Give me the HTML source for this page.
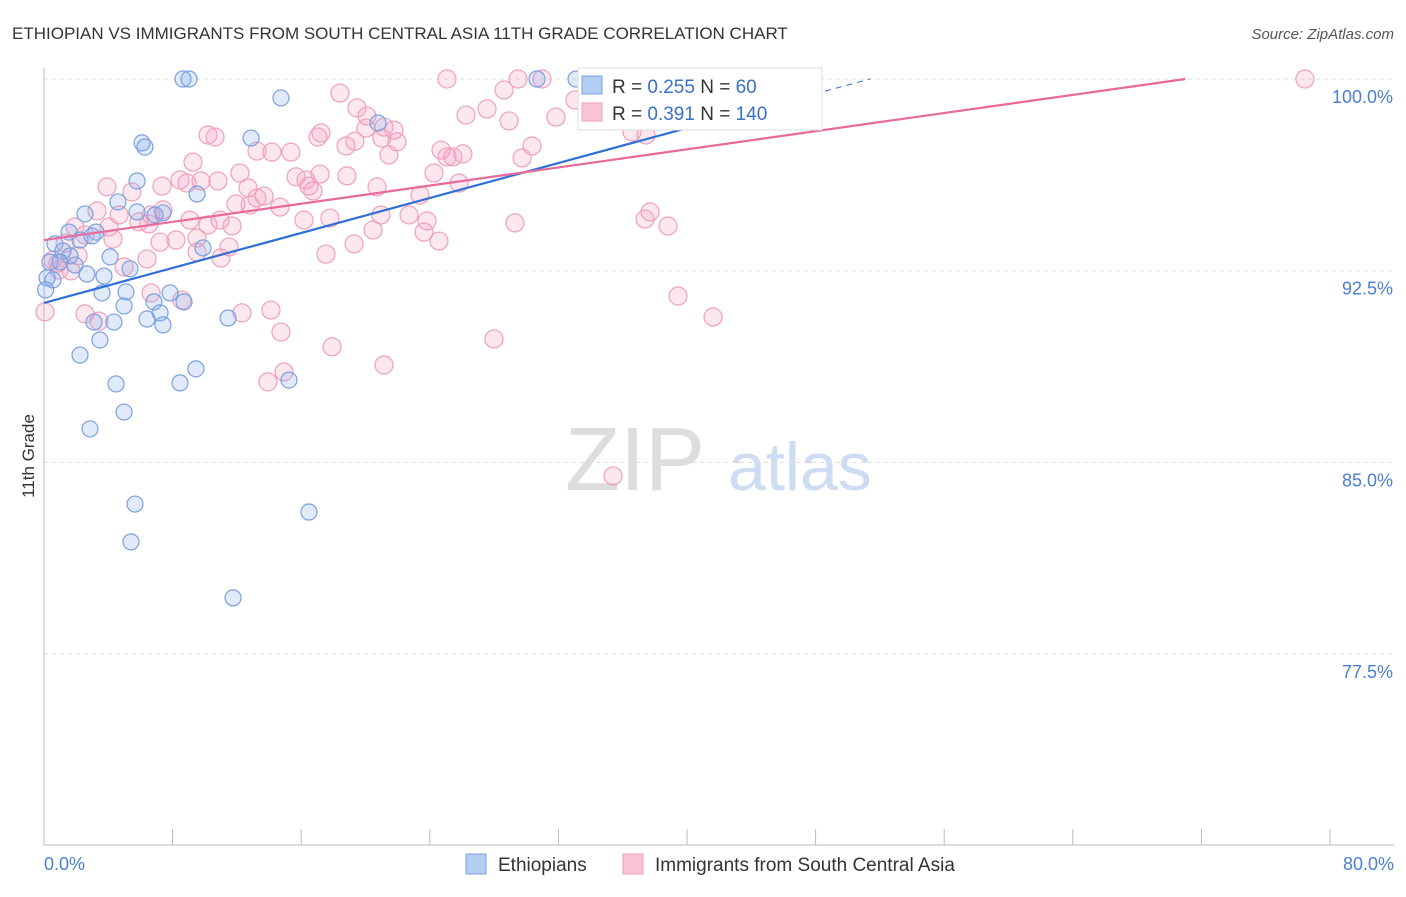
<!DOCTYPE html>
<html><head><meta charset="utf-8"><style>
body{margin:0;background:#fff;font-family:"Liberation Sans",sans-serif}
svg text{font-family:"Liberation Sans",sans-serif}
</style></head><body>
<svg width="1406" height="892" xmlns="http://www.w3.org/2000/svg" id="chart">
<text x="12" y="39" font-size="17" fill="#333">ETHIOPIAN VS IMMIGRANTS FROM SOUTH CENTRAL ASIA 11TH GRADE CORRELATION CHART</text>
<text x="1394" y="39" font-size="15" fill="#555" font-style="italic" text-anchor="end">Source: ZipAtlas.com</text>
<text x="34" y="456" font-size="17" fill="#333" transform="rotate(-90 34 456)" text-anchor="middle">11th Grade</text>
<g><text x="635" y="490" font-size="90" fill="#ddd" font-family="Liberation Serif" text-anchor="middle">ZIP</text><text x="800" y="490" font-size="68" fill="#cddcf2" text-anchor="middle">atlas</text></g>
<g id="grid"></g><g id="axes"></g><g id="pts"></g><g id="lines"></g>
<g>
<rect x="578" y="68" width="244" height="62" fill="#fff" stroke="#ddd"/>
<rect x="582" y="76" width="20" height="18" fill="#b3cdf3" stroke="#7aa0e0"/>
<text x="612" y="93" font-size="19" fill="#333">R = <tspan fill="#3a70c8">0.255</tspan>   N =  <tspan fill="#3a70c8">60</tspan></text>
<rect x="582" y="103" width="20" height="18" fill="#f9c5d6" stroke="#f0a0bb"/>
<text x="612" y="120" font-size="19" fill="#333">R =  <tspan fill="#3a70c8">0.391</tspan>   N = <tspan fill="#3a70c8">140</tspan></text>
</g>
<g>
<rect x="466" y="854" width="20" height="20" fill="#b3cdf3" stroke="#7aa0e0"/>
<text x="498" y="871" font-size="19" fill="#333">Ethiopians</text>
<rect x="623" y="854" width="20" height="20" fill="#f9c5d6" stroke="#f0a0bb"/>
<text x="655" y="871" font-size="19" fill="#333">Immigrants from South Central Asia</text>
</g>
<text x="44" y="870" font-size="18" fill="#4a7fd4">0.0%</text>
<text x="1394" y="870" font-size="18" fill="#4a7fd4" text-anchor="end">80.0%</text>
</svg>
<script>
const yTicks=[100,92.5,85,77.5];
const yTickLabels=["100.0%","92.5%","85.0%","77.5%"];
const xTicks=[0,8,16,24,32,40,48,56,64,72,80];
const blueX=[8.65,9.02,14.74,6.10,6.28,12.88,20.78,30.67,33.10,5.79,9.52,4.60,2.55,5.79,7.40,6.91,1.56,3.23,2.99,0.68,2.24,1.18,1.62,4.11,0.37,1.00,1.93,2.67,5.35,3.73,0.56,0.19,3.61,5.10,7.84,6.84,8.71,4.98,7.22,6.41,7.40,4.35,3.11,11.45,3.48,2.24,9.45,8.46,4.48,15.24,4.98,2.86,9.89,5.66,16.48,5.41,11.76,0.1];
const blueY=[100,100,99.26,97.50,97.34,97.69,98.28,100,100,96.01,95.50,95.19,94.72,94.80,94.76,94.68,94.01,94.01,93.86,93.55,93.70,93.27,93.08,93.04,92.84,92.84,92.72,92.37,92.57,92.29,92.14,92.22,91.63,91.67,91.63,91.28,91.28,91.12,90.85,90.61,90.38,90.49,90.49,90.65,89.79,89.20,88.66,88.11,88.07,88.22,86.97,86.31,93.39,83.37,83.06,81.89,79.70,91.75];
const pinkX=[25.07,29.49,30.98,78.44,18.41,28.62,33.03,35.27,27.56,26.25,28.93,19.47,20.09,31.85,21.15,21.77,10.20,10.64,17.23,17.04,18.79,19.34,21.02,21.96,13.25,14.18,15.36,20.03,21.46,24.70,25.07,25.44,26.06,29.74,30.36,9.27,12.19,15.68,16.30,17.17,18.85,24.26,25.82,8.46,8.90,10.82,9.77,3.92,5.47,7.34,12.69,13.25,13.69,16.48,16.73,20.72,23.39,12.82,14.68,11.94,7.40,6.66,3.30,4.67,9.08,10.95,5.91,6.53,4.04,1.93,2.55,10.20,11.70,16.17,17.79,20.96,22.71,23.83,29.30,37.70,37.39,38.82,4.29,7.22,8.21,9.52,11.51,19.29,20.47,23.64,24.57,1.31,0.56,0.87,2.12,6.41,9.52,11.01,17.54,4.98,0.93,1.68,0.06,6.66,8.58,39.44,41.62,2.55,3.42,12.32,14.12,14.74,17.92,27.99,21.15,14.93,13.93,35.40,36.58,37.45];
const pinkY=[100,100,100,100,99.45,99.57,99.18,99.22,98.83,98.59,98.36,98.87,98.55,98.51,98.12,98.00,97.81,97.73,97.89,97.73,97.38,97.57,97.69,97.54,97.18,97.14,97.14,98.08,97.03,97.22,96.95,96.95,97.07,96.91,97.38,96.75,96.32,96.17,96.05,96.28,96.21,96.32,95.93,96.05,95.93,96.01,96.01,95.78,95.58,95.81,95.74,95.34,95.42,95.81,95.62,95.78,95.46,95.07,94.99,95.11,94.88,94.68,94.84,94.68,94.48,94.48,94.41,94.33,94.21,94.21,93.90,94.29,94.25,94.48,94.56,94.68,94.68,94.45,94.37,94.80,94.52,94.25,93.74,93.62,93.70,93.78,93.43,93.55,94.09,94.01,93.66,93.58,92.92,92.80,93.08,92.96,93.23,93.00,93.15,92.65,92.53,92.49,90.89,91.63,91.35,91.51,90.69,90.81,90.53,90.85,90.96,90.10,89.52,89.83,88.81,88.54,88.15,84.47,97.93,97.81];
const blueTrendX=[0,40,51.4];
const blueTrendY=[91.24,98.08,100];
const pinkTrendX=[0,71.0];
const pinkTrendY=[93.70,100];
const NS="http://www.w3.org/2000/svg";
function sx(v){return 44+v*(1286/80);}
function sy(v){return 79+(100-v)*(191.7/7.5);}
function mk(tag,attrs,parent){const e=document.createElementNS(NS,tag);for(const k in attrs)e.setAttribute(k,attrs[k]);document.getElementById(parent).appendChild(e);return e;}
yTicks.forEach((t,i)=>{
 const g=mk('line',{x1:44,x2:1394,y1:sy(t),y2:sy(t),stroke:'#ddd','stroke-dasharray':'4,4'},'grid');
 
 
 const l=mk('text',{x:1393,y:sy(t)+24,'font-size':18,fill:'#4a7fd4','text-anchor':'end'},'grid');
 l.textContent=yTickLabels[i];
 
 
});
const ya=mk('line',{x1:44,x2:44,y1:68,y2:845,stroke:'#bbb'},'axes');


const xa=mk('line',{x1:44,x2:1394,y1:845,y2:845,stroke:'#bbb'},'axes');


xTicks.forEach(t=>{
 const k=mk('line',{x1:sx(t),x2:sx(t),y1:829,y2:845,stroke:'#bbb'},'axes');
 
 
});
pinkX.forEach((x,i)=>{
 const c=mk('circle',{cx:sx(x),cy:sy(pinkY[i]),r:9,fill:'rgba(244,160,190,0.25)',stroke:'#f0a0bb','stroke-width':1.2},'pts');
 
 
});
blueX.forEach((x,i)=>{
 const c=mk('circle',{cx:sx(x),cy:sy(blueY[i]),r:8,fill:'rgba(130,170,235,0.25)',stroke:'#7aa0e0','stroke-width':1.2},'pts');
 
 
});
const bl=mk('line',{x1:sx(blueTrendX[0]),y1:sy(blueTrendY[0]),x2:sx(blueTrendX[1]),y2:sy(blueTrendY[1]),stroke:'#2f6fd6','stroke-width':2.2},'lines');


const bd=mk('line',{x1:sx(blueTrendX[1]),y1:sy(blueTrendY[1]),x2:sx(blueTrendX[2]),y2:sy(blueTrendY[2]),stroke:'#2f6fd6','stroke-width':1,'stroke-dasharray':'6,5'},'lines');


const pl=mk('line',{x1:sx(pinkTrendX[0]),y1:sy(pinkTrendY[0]),x2:sx(pinkTrendX[1]),y2:sy(pinkTrendY[1]),stroke:'#e8699a','stroke-width':2.2},'lines');


</script>
</body></html>
